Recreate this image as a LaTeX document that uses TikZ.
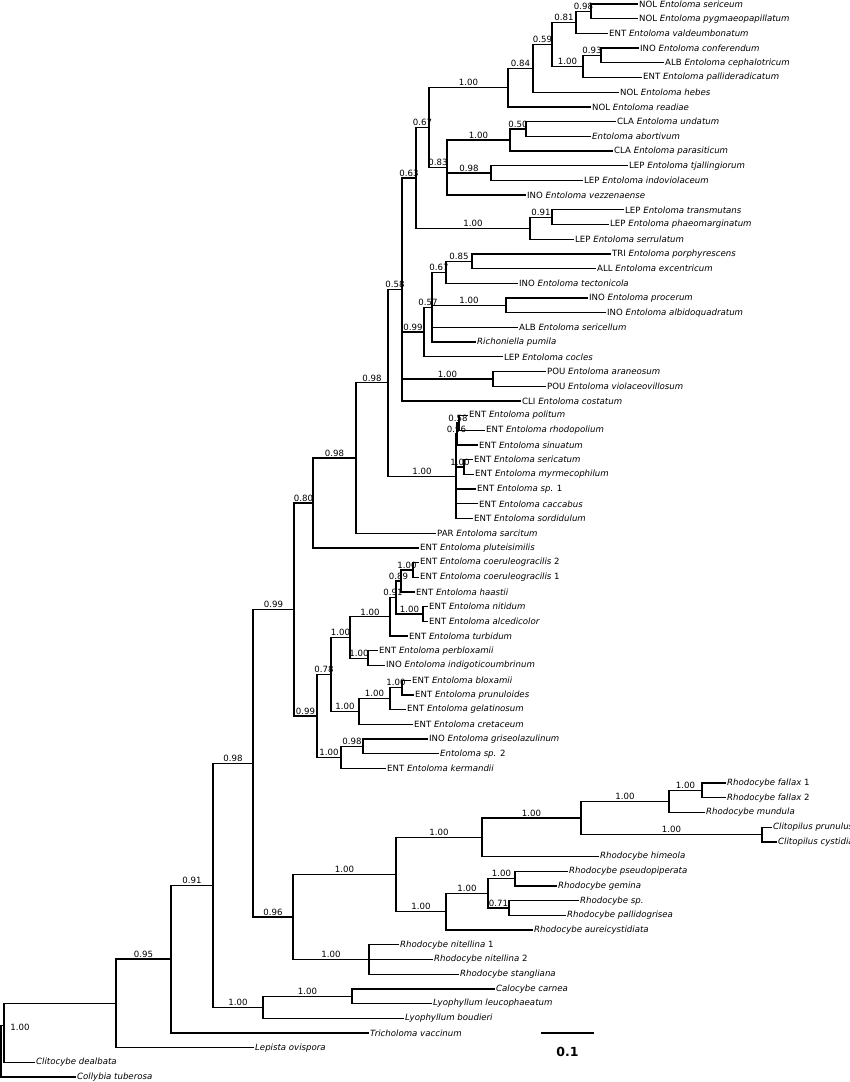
\documentclass[tikz,border=0pt]{standalone}
\usepackage{fontspec}
\setmainfont{DejaVu Sans}
\begin{document}
\begin{tikzpicture}[x=1pt,y=-14.7pt,
  br/.style={line width=1.3pt,line cap=rect},
  tipl/.style={anchor=west,inner sep=2pt,font=\fontsize{8.6}{10}\selectfont},
  sup/.style={above,inner sep=1pt,font=\fontsize{8.6}{10}\selectfont}]
\useasboundingbox (0pt,0pt) rectangle (850pt,-1082pt);
\begin{scope}[yshift=-4pt]
\newcommand\tp[4]{\node[tipl] (#1) at (#2,#3) {#4};}
\newcommand\ic[3]{\coordinate (#1) at (#2,#3);}
\newcommand\br[3]{\draw[br] (#1) |- node[sup,pos=0.75]{#3} (#2);}
\newcommand\tb[2]{\draw[br] (#1) |- (#2.west);}
% tips
\tp{t0}{637}{0}{NOL \textit{Entoloma sericeum}}
\tp{t1}{637}{1}{NOL \textit{Entoloma pygmaeopapillatum}}
\tp{t2}{607}{2}{ENT \textit{Entoloma valdeumbonatum}}
\tp{t3}{638}{3}{INO \textit{Entoloma conferendum}}
\tp{t4}{663}{4}{ALB \textit{Entoloma cephalotricum}}
\tp{t5}{641}{5}{ENT \textit{Entoloma pallideradicatum}}
\tp{t6}{618}{6}{NOL \textit{Entoloma hebes}}
\tp{t7}{590}{7}{NOL \textit{Entoloma readiae}}
\tp{t8}{615}{8}{CLA \textit{Entoloma undatum}}
\tp{t9}{590}{9}{\textit{Entoloma abortivum}}
\tp{t10}{612}{10}{CLA \textit{Entoloma parasiticum}}
\tp{t11}{627}{11}{LEP \textit{Entoloma tjallingiorum}}
\tp{t12}{582}{12}{LEP \textit{Entoloma indoviolaceum}}
\tp{t13}{525}{13}{INO \textit{Entoloma vezzenaense}}
\tp{t14}{623}{14}{LEP \textit{Entoloma transmutans}}
\tp{t15}{608}{15}{LEP \textit{Entoloma phaeomarginatum}}
\tp{t16}{573}{16}{LEP \textit{Entoloma serrulatum}}
\tp{t17}{610}{17}{TRI \textit{Entoloma porphyrescens}}
\tp{t18}{595}{18}{ALL \textit{Entoloma excentricum}}
\tp{t19}{517}{19}{INO \textit{Entoloma tectonicola}}
\tp{t20}{587}{20}{INO \textit{Entoloma procerum}}
\tp{t21}{605}{21}{INO \textit{Entoloma albidoquadratum}}
\tp{t22}{517}{22}{ALB \textit{Entoloma sericellum}}
\tp{t23}{475}{23}{\textit{Richoniella pumila}}
\tp{t24}{502}{24}{LEP \textit{Entoloma cocles}}
\tp{t25}{545}{25}{POU \textit{Entoloma araneosum}}
\tp{t26}{545}{26}{POU \textit{Entoloma violaceovillosum}}
\tp{t27}{520}{27}{CLI \textit{Entoloma costatum}}
\tp{t28}{467}{28}{ENT \textit{Entoloma politum}}
\tp{t29}{484}{29}{ENT \textit{Entoloma rhodopolium}}
\tp{t30}{477}{30}{ENT \textit{Entoloma sinuatum}}
\tp{t31}{472}{31}{ENT \textit{Entoloma sericatum}}
\tp{t32}{473}{32}{ENT \textit{Entoloma myrmecophilum}}
\tp{t33}{475}{33}{ENT \textit{Entoloma sp.} 1}
\tp{t34}{477}{34}{ENT \textit{Entoloma caccabus}}
\tp{t35}{472}{35}{ENT \textit{Entoloma sordidulum}}
\tp{t36}{435}{36}{PAR \textit{Entoloma sarcitum}}
\tp{t37}{418}{37}{ENT \textit{Entoloma pluteisimilis}}
\tp{t38}{418}{38}{ENT \textit{Entoloma coeruleogracilis} 2}
\tp{t39}{418}{39}{ENT \textit{Entoloma coeruleogracilis} 1}
\tp{t40}{414}{40}{ENT \textit{Entoloma haastii}}
\tp{t41}{427}{41}{ENT \textit{Entoloma nitidum}}
\tp{t42}{427}{42}{ENT \textit{Entoloma alcedicolor}}
\tp{t43}{407}{43}{ENT \textit{Entoloma turbidum}}
\tp{t44}{377}{44}{ENT \textit{Entoloma perbloxamii}}
\tp{t45}{384}{45}{INO \textit{Entoloma indigoticoumbrinum}}
\tp{t46}{410}{46}{ENT \textit{Entoloma bloxamii}}
\tp{t47}{413}{47}{ENT \textit{Entoloma prunuloides}}
\tp{t48}{405}{48}{ENT \textit{Entoloma gelatinosum}}
\tp{t49}{412}{49}{ENT \textit{Entoloma cretaceum}}
\tp{t50}{427}{50}{INO \textit{Entoloma griseolazulinum}}
\tp{t51}{438}{51}{\textit{Entoloma sp.} 2}
\tp{t52}{385}{52}{ENT \textit{Entoloma kermandii}}
\tp{t53}{725}{53}{\textit{Rhodocybe fallax} 1}
\tp{t54}{725}{54}{\textit{Rhodocybe fallax} 2}
\tp{t55}{704}{55}{\textit{Rhodocybe mundula}}
\tp{t56}{771}{56}{\textit{Clitopilus prunulus}}
\tp{t57}{776}{57}{\textit{Clitopilus cystidiatus}}
\tp{t58}{598}{58}{\textit{Rhodocybe himeola}}
\tp{t59}{567}{59}{\textit{Rhodocybe pseudopiperata}}
\tp{t60}{556}{60}{\textit{Rhodocybe gemina}}
\tp{t61}{578}{61}{\textit{Rhodocybe sp.}}
\tp{t62}{565}{62}{\textit{Rhodocybe pallidogrisea}}
\tp{t63}{532}{63}{\textit{Rhodocybe aureicystidiata}}
\tp{t64}{398}{64}{\textit{Rhodocybe nitellina} 1}
\tp{t65}{432}{65}{\textit{Rhodocybe nitellina} 2}
\tp{t66}{458}{66}{\textit{Rhodocybe stangliana}}
\tp{t67}{494}{67}{\textit{Calocybe carnea}}
\tp{t68}{431}{68}{\textit{Lyophyllum leucophaeatum}}
\tp{t69}{403}{69}{\textit{Lyophyllum boudieri}}
\tp{t70}{368}{70}{\textit{Tricholoma vaccinum}}
\tp{t71}{253}{71}{\textit{Lepista ovispora}}
\tp{t72}{34}{72}{\textit{Clitocybe dealbata}}
\tp{t73}{75}{73}{\textit{Collybia tuberosa}}
% internal nodes
\ic{A}{591}{0.5} \ic{B}{576}{1.25} \ic{C}{601}{3.5} \ic{D}{583}{4.25}
\ic{E}{552}{2.75} \ic{F}{533}{4.375} \ic{G}{508}{5.6875} \ic{H}{526}{8.5}
\ic{I}{510}{9.25} \ic{J}{491}{11.5} \ic{K}{447}{11.125} \ic{L}{429}{8.406}
\ic{M}{552}{14.5} \ic{N}{530}{15.25} \ic{O}{416}{11.83}
\ic{P}{472}{17.5} \ic{Q}{446}{18.25} \ic{R}{506}{20.5} \ic{S}{432}{20.625}
\ic{T}{424}{22.3125} \ic{U}{493}{25.5} \ic{V}{402}{19.41}
\ic{W}{459}{28.5} \ic{X}{457}{29.25} \ic{Y}{464}{31.5} \ic{Z}{456}{32.125}
\ic{AA}{388}{25.77} \ic{AB}{356}{30.88} \ic{AC}{313}{33.94}
\ic{AD}{413}{38.5} \ic{AE}{401}{39.25} \ic{AF}{423}{41.5} \ic{AG}{396}{40.375}
\ic{AH}{390}{41.6875} \ic{AI}{368}{44.5} \ic{AJ}{350}{43.09}
\ic{AK}{402}{46.5} \ic{AL}{390}{47.25} \ic{AM}{359}{48.125} \ic{AN}{331}{45.61}
\ic{AO}{363}{50.5} \ic{AP}{341}{51.25} \ic{AQ}{317}{48.43} \ic{AR}{294}{41.19}
\ic{BA}{702}{53.5} \ic{BB}{669}{54.25} \ic{BC}{762}{56.5} \ic{BD}{581}{55.375}
\ic{BE}{482}{56.69} \ic{BF}{515}{59.5} \ic{BG}{509}{61.5} \ic{BH}{488}{60.5}
\ic{BI}{446}{61.75} \ic{BJ}{396}{59.22} \ic{BK}{369}{65} \ic{BL}{293}{62.11}
\ic{BM}{253}{51.65} \ic{BN}{352}{67.5} \ic{BO}{263}{68.25} \ic{BP}{213}{59.95}
\ic{BQ}{171}{64.97} \ic{BR}{116}{67.99} \ic{BS}{4}{69.49} \ic{RT}{1}{71.25}
% branches
\tb{A}{t0} \tb{A}{t1} \br{B}{A}{0.98} \tb{B}{t2}
\tb{C}{t3} \tb{C}{t4} \br{D}{C}{0.93} \tb{D}{t5}
\br{E}{B}{0.81} \br{E}{D}{1.00} \br{F}{E}{0.59} \tb{F}{t6}
\br{G}{F}{0.84} \tb{G}{t7}
\tb{H}{t8} \tb{H}{t9} \br{I}{H}{0.50} \tb{I}{t10}
\tb{J}{t11} \tb{J}{t12}
\br{K}{I}{1.00} \br{K}{J}{0.98} \tb{K}{t13}
\br{L}{G}{1.00} \br{L}{K}{0.83}
\tb{M}{t14} \tb{M}{t15} \br{N}{M}{0.91} \tb{N}{t16}
\br{O}{L}{0.67} \br{O}{N}{1.00}
\tb{P}{t17} \tb{P}{t18} \br{Q}{P}{0.85} \tb{Q}{t19}
\tb{R}{t20} \tb{R}{t21}
\br{S}{Q}{0.67} \br{S}{R}{1.00} \tb{S}{t22} \tb{S}{t23}
\br{T}{S}{0.57} \tb{T}{t24}
\tb{U}{t25} \tb{U}{t26}
\br{V}{O}{0.63} \br{V}{T}{0.99} \br{V}{U}{1.00} \tb{V}{t27}
\tb{W}{t28} \tb{W}{t29} \br{X}{W}{0.58} \tb{X}{t30}
\tb{Y}{t31} \tb{Y}{t32}
\br{Z}{X}{0.96} \br{Z}{Y}{1.00} \tb{Z}{t33} \tb{Z}{t34} \tb{Z}{t35}
\br{AA}{V}{0.58} \br{AA}{Z}{1.00}
\br{AB}{AA}{0.98} \tb{AB}{t36}
\br{AC}{AB}{0.98} \tb{AC}{t37}
\tb{AD}{t38} \tb{AD}{t39} \br{AE}{AD}{1.00} \tb{AE}{t40}
\tb{AF}{t41} \tb{AF}{t42}
\br{AG}{AE}{0.89} \br{AG}{AF}{1.00}
\br{AH}{AG}{0.91} \tb{AH}{t43}
\tb{AI}{t44} \tb{AI}{t45}
\br{AJ}{AH}{1.00} \br{AJ}{AI}{1.00}
\tb{AK}{t46} \tb{AK}{t47} \br{AL}{AK}{1.00} \tb{AL}{t48}
\br{AM}{AL}{1.00} \tb{AM}{t49}
\br{AN}{AJ}{1.00} \br{AN}{AM}{1.00}
\tb{AO}{t50} \tb{AO}{t51} \br{AP}{AO}{0.98} \tb{AP}{t52}
\br{AQ}{AN}{0.78} \br{AQ}{AP}{1.00}
\br{AR}{AC}{0.80} \br{AR}{AQ}{0.99}
\tb{BA}{t53} \tb{BA}{t54} \br{BB}{BA}{1.00} \tb{BB}{t55}
\tb{BC}{t56} \tb{BC}{t57}
\br{BD}{BB}{1.00} \br{BD}{BC}{1.00}
\br{BE}{BD}{1.00} \tb{BE}{t58}
\tb{BF}{t59} \tb{BF}{t60} \tb{BG}{t61} \tb{BG}{t62}
\br{BH}{BF}{1.00} \br{BH}{BG}{0.71}
\br{BI}{BH}{1.00} \tb{BI}{t63}
\br{BJ}{BE}{1.00} \br{BJ}{BI}{1.00}
\tb{BK}{t64} \tb{BK}{t65} \tb{BK}{t66}
\br{BL}{BJ}{1.00} \br{BL}{BK}{1.00}
\br{BM}{AR}{0.99} \br{BM}{BL}{0.96}
\tb{BN}{t67} \tb{BN}{t68} \br{BO}{BN}{1.00} \tb{BO}{t69}
\br{BP}{BM}{0.98} \br{BP}{BO}{1.00}
\br{BQ}{BP}{0.91} \tb{BQ}{t70}
\br{BR}{BQ}{0.95} \tb{BR}{t71}
\draw[br] (BS) |- (BR); \tb{BS}{t72}
\draw[br] (RT) |- (BS); \tb{RT}{t73}
\node[sup,anchor=center] (lbs) at (20,69.6) {1.00};
% scale bar
\coordinate (sb1) at (541,70.0);
\coordinate (sb2) at (594,70.0);
\draw[line width=1.3pt] (sb1) -- (sb2);
\node[font=\bfseries\fontsize{12.5}{14}\selectfont] (sbl) at (567.5,71.3) {0.1};
\end{scope}
\end{tikzpicture}
\end{document}
